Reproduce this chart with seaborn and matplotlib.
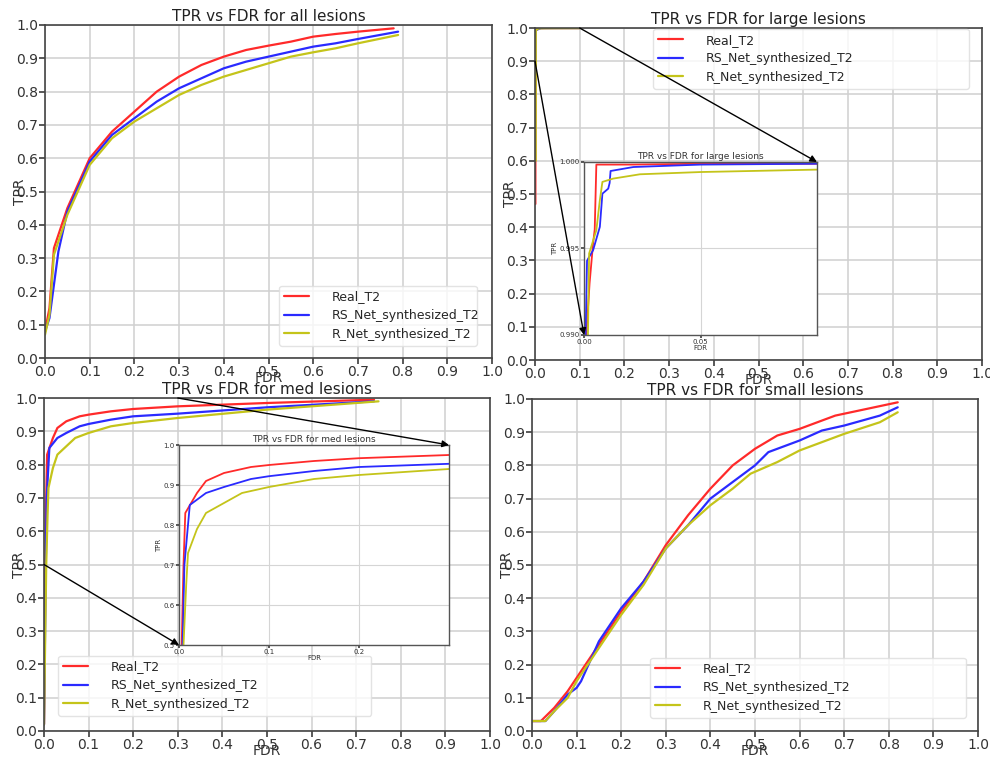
import numpy as np
import pandas as pd
import matplotlib
matplotlib.use("Agg")
import matplotlib.pyplot as plt
from matplotlib.patches import ConnectionPatch
import seaborn as sns

# ---- data ----
models = ["Real_T2", "RS_Net_synthesized_T2", "R_Net_synthesized_T2"]
colors = ["#ff2a2a", "#2a2aff", "#c4c41a"]

all_fdr_real = [0.0, 0.01, 0.02, 0.05, 0.1, 0.15, 0.2, 0.25, 0.3, 0.35, 0.4, 0.45, 0.5, 0.55, 0.6, 0.65, 0.7, 0.78]
all_tpr_real = [0.08, 0.15, 0.33, 0.45, 0.6, 0.68, 0.74, 0.8, 0.845, 0.88, 0.905, 0.925, 0.938, 0.95, 0.965, 0.973, 0.98, 0.99]
all_fdr_rs = [0.0, 0.01, 0.03, 0.05, 0.1, 0.15, 0.2, 0.25, 0.3, 0.35, 0.4, 0.45, 0.5, 0.55, 0.6, 0.65, 0.7, 0.79]
all_tpr_rs = [0.08, 0.12, 0.32, 0.44, 0.59, 0.67, 0.72, 0.77, 0.81, 0.84, 0.87, 0.89, 0.905, 0.92, 0.935, 0.945, 0.958, 0.98]
all_fdr_r = [0.0, 0.01, 0.02, 0.05, 0.1, 0.15, 0.2, 0.25, 0.3, 0.35, 0.4, 0.45, 0.5, 0.55, 0.6, 0.65, 0.7, 0.79]
all_tpr_r = [0.07, 0.13, 0.31, 0.43, 0.58, 0.66, 0.71, 0.75, 0.79, 0.82, 0.845, 0.865, 0.885, 0.905, 0.918, 0.93, 0.945, 0.97]

large_fdr_real = [0.0008, 0.001, 0.0024, 0.0039, 0.0046, 0.0053, 0.02, 0.05, 0.1]
large_tpr_real = [0.47, 0.99, 0.993, 0.9953, 0.9961, 0.99985, 0.99985, 0.9999, 0.9999]
large_fdr_rs = [0.0006, 0.0007, 0.0013, 0.0039, 0.0068, 0.0079, 0.0104, 0.011, 0.0114, 0.0212, 0.05, 0.1]
large_tpr_rs = [0.9, 0.99, 0.9943, 0.9949, 0.99625, 0.99817, 0.99846, 0.99879, 0.99948, 0.99971, 0.99985, 0.9999]
large_fdr_r = [0.0015, 0.0017, 0.0022, 0.0053, 0.0068, 0.0079, 0.0125, 0.024, 0.05, 0.1]
large_tpr_r = [0.6, 0.99, 0.99471, 0.99606, 0.99779, 0.99885, 0.99904, 0.99929, 0.99942, 0.99956]

med_fdr_real = [0.0, 0.003, 0.005, 0.007, 0.02, 0.03, 0.05, 0.08, 0.1, 0.15, 0.2, 0.3, 0.5, 0.74]
med_tpr_real = [0.02, 0.5, 0.7, 0.83, 0.88, 0.91, 0.93, 0.945, 0.95, 0.96, 0.967, 0.975, 0.985, 0.995]
med_fdr_rs = [0.0, 0.004, 0.006, 0.01, 0.012, 0.03, 0.05, 0.08, 0.1, 0.15, 0.2, 0.3, 0.5, 0.74]
med_tpr_rs = [0.02, 0.5, 0.7, 0.8, 0.85, 0.88, 0.895, 0.915, 0.922, 0.935, 0.945, 0.953, 0.972, 0.99]
med_fdr_r = [0.0, 0.005, 0.008, 0.01, 0.02, 0.03, 0.05, 0.07, 0.1, 0.15, 0.2, 0.3, 0.5, 0.75]
med_tpr_r = [0.02, 0.5, 0.65, 0.73, 0.79, 0.83, 0.855, 0.88, 0.895, 0.915, 0.925, 0.94, 0.965, 0.99]

small_fdr_real = [0.0, 0.02, 0.05, 0.08, 0.1, 0.15, 0.2, 0.25, 0.3, 0.35, 0.4, 0.45, 0.5, 0.55, 0.6, 0.65, 0.68, 0.75, 0.82]
small_tpr_real = [0.03, 0.03, 0.07, 0.12, 0.16, 0.26, 0.36, 0.45, 0.56, 0.65, 0.73, 0.8, 0.85, 0.89, 0.91, 0.935, 0.95, 0.97, 0.99]
small_fdr_rs = [0.0, 0.03, 0.05, 0.08, 0.1, 0.11, 0.15, 0.2, 0.25, 0.3, 0.35, 0.4, 0.45, 0.5, 0.53, 0.6, 0.65, 0.7, 0.78, 0.82]
small_tpr_rs = [0.03, 0.03, 0.06, 0.11, 0.13, 0.15, 0.27, 0.37, 0.45, 0.55, 0.62, 0.7, 0.75, 0.8, 0.84, 0.875, 0.905, 0.92, 0.95, 0.975]
small_fdr_r = [0.0, 0.03, 0.05, 0.08, 0.1, 0.15, 0.2, 0.25, 0.3, 0.35, 0.4, 0.45, 0.49, 0.55, 0.6, 0.65, 0.7, 0.78, 0.82]
small_tpr_r = [0.03, 0.03, 0.06, 0.1, 0.15, 0.25, 0.35, 0.44, 0.55, 0.62, 0.68, 0.73, 0.775, 0.81, 0.845, 0.87, 0.895, 0.93, 0.96]

ticks = [0.0, 0.1, 0.2, 0.3, 0.4, 0.5, 0.6, 0.7, 0.8, 0.9, 1.0]

sns.set_theme(style="whitegrid")
plt.rcParams.update({
    "axes.edgecolor": "#444444",
    "axes.linewidth": 1.2,
    "grid.color": "#d0d0d0",
    "grid.linewidth": 1.1,
    "xtick.bottom": True,
    "ytick.left": True,
    "xtick.major.size": 4,
    "ytick.major.size": 4,
    "xtick.color": "#444444",
    "ytick.color": "#444444",
    "xtick.labelcolor": "#333333",
    "ytick.labelcolor": "#333333",
})
plt.rcParams["font.family"] = ["DejaVu Sans"]

fig = plt.figure(figsize=(9.9, 7.57), dpi=100)


def px_axes(left, top, right, bottom):
    return fig.add_axes([left / 990, 1 - bottom / 757, (right - left) / 990, (bottom - top) / 757])


def draw_curves(ax, series, lw=1.6):
    for (fdr, tpr), name, col in zip(series, models, colors):
        df = pd.DataFrame({"FDR": fdr, "TPR": tpr})
        sns.lineplot(data=df, x="FDR", y="TPR", color=col, lw=lw, label=name,
                     estimator=None, sort=False, ax=ax)


def style_main(ax, title, leg_box):
    ax.set_xlim(0, 1)
    ax.set_ylim(0, 1)
    ax.set_xticks(ticks)
    ax.set_yticks(ticks)
    ax.set_xticklabels([f"{t:.1f}" for t in ticks], fontsize=10)
    ax.set_yticklabels([f"{t:.1f}" for t in ticks], fontsize=10)
    ax.tick_params(pad=1)
    ax.set_title(title, fontsize=11, pad=3, color="#222222")
    ax.set_xlabel("FDR", fontsize=10, labelpad=-6, color="#333333")
    ax.set_ylabel("TPR", fontsize=10, labelpad=-8, color="#333333")
    ax.legend(loc="lower left", bbox_to_anchor=leg_box, mode="expand", fontsize=9,
              handlelength=2.0, handletextpad=1.8, framealpha=0.8, borderpad=0.4,
              labelspacing=0.45, edgecolor="#dddddd", fancybox=True)


def style_inset(ax, title, xt, yt, xl, yl):
    ax.set_xlim(*xl)
    ax.set_ylim(*yl)
    ax.set_xticks(xt)
    ax.set_yticks(yt)
    ax.tick_params(labelsize=5, pad=1, length=2)
    ax.set_title(title, fontsize=6.5, pad=2, color="#333333")
    ax.set_xlabel("FDR", fontsize=5, labelpad=0, color="#333333")
    ax.set_ylabel("TPR", fontsize=5, labelpad=1, color="#333333")
    for s in ax.spines.values():
        s.set_color("#555555")
        s.set_linewidth(1.0)
    ax.grid(True, color="#d5d5d5", lw=0.8)
    if ax.get_legend():
        ax.get_legend().remove()


def arrow(ax_from, xy_from, ax_to, xy_to):
    con = ConnectionPatch(xyA=xy_from, coordsA=ax_from.transData, xyB=xy_to, coordsB=ax_to.transAxes,
                          arrowstyle="-|>", color="black", lw=1.0, mutation_scale=10, zorder=10)
    fig.add_artist(con)


# top left: all lesions
ax1 = px_axes(45, 25, 492, 358)
draw_curves(ax1, [(all_fdr_real, all_tpr_real), (all_fdr_rs, all_tpr_rs), (all_fdr_r, all_tpr_r)])
style_main(ax1, "TPR vs FDR for all lesions", (0.51, 0.018, 0.47, 0.18))

# top right: large lesions
large = [(large_fdr_real, large_tpr_real), (large_fdr_rs, large_tpr_rs), (large_fdr_r, large_tpr_r)]
ax2 = px_axes(535, 28, 982, 360)
draw_curves(ax2, large)
style_main(ax2, "TPR vs FDR for large lesions", (0.25, 0.798, 0.734, 0.184))
ins2 = px_axes(584, 162, 817, 335)
draw_curves(ins2, large, lw=1.3)
style_inset(ins2, "TPR vs FDR for large lesions", [0.0, 0.05], [0.990, 0.995, 1.000], (0, 0.1), (0.99, 1.0))
ins2.set_xticklabels(["0.00", "0.05"])
ins2.set_yticklabels(["0.990", "0.995", "1.000"])
arrow(ax2, (0.1, 1.0), ins2, (1, 1))
arrow(ax2, (0.0, 0.9), ins2, (0, 0))

# bottom left: med lesions
med = [(med_fdr_real, med_tpr_real), (med_fdr_rs, med_tpr_rs), (med_fdr_r, med_tpr_r)]
ax3 = px_axes(44, 398, 490, 731)
draw_curves(ax3, med)
style_main(ax3, "TPR vs FDR for med lesions", (0.018, 0.027, 0.73, 0.171))
ins3 = px_axes(179, 445, 449, 645)
draw_curves(ins3, med, lw=1.3)
style_inset(ins3, "TPR vs FDR for med lesions", [0.0, 0.1, 0.2], [0.5, 0.6, 0.7, 0.8, 0.9, 1.0], (0, 0.3), (0.5, 1.0))
arrow(ax3, (0.3, 1.0), ins3, (1, 1))
arrow(ax3, (0.0, 0.5), ins3, (0, 0))

# bottom right: small lesions
ax4 = px_axes(532, 399, 978, 731)
draw_curves(ax4, [(small_fdr_real, small_tpr_real), (small_fdr_rs, small_tpr_rs), (small_fdr_r, small_tpr_r)])
style_main(ax4, "TPR vs FDR for small lesions", (0.251, 0.021, 0.736, 0.184))

fig.savefig("out.png", dpi=100)
